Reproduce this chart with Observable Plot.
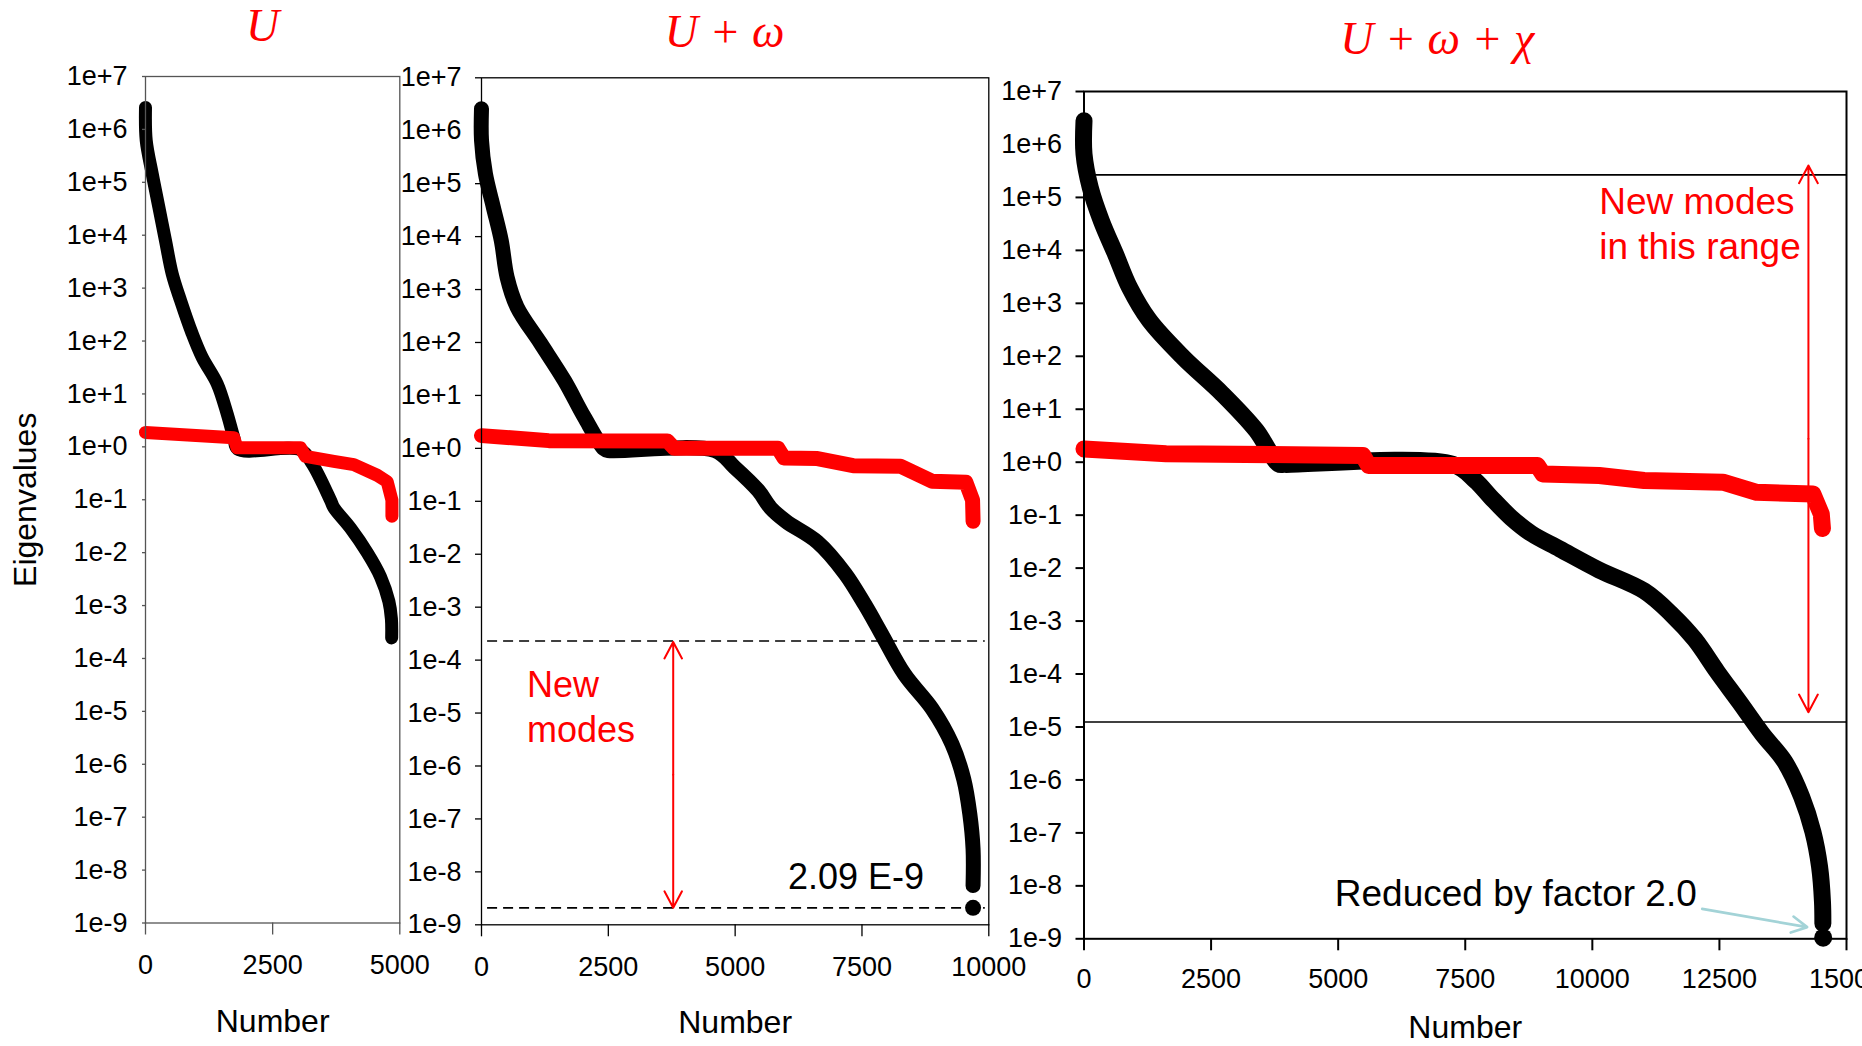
<!DOCTYPE html>
<html><head><meta charset="utf-8">
<script src="https://cdn.jsdelivr.net/npm/d3@7"></script>
<script src="https://cdn.jsdelivr.net/npm/@observablehq/plot@0.6"></script>
<style>
html,body{margin:0;padding:0;background:#fff;overflow:hidden;}
#wrap{position:relative;width:1862px;height:1046px;overflow:hidden;background:#fff;}
</style></head><body><div id="wrap"></div>
<script>
// ---------- data ----------
const yTickValues = [1e7,1e6,1e5,1e4,1e3,1e2,1e1,1e0,1e-1,1e-2,1e-3,1e-4,1e-5,1e-6,1e-7,1e-8,1e-9];
const yTickLabels = ["1e+7","1e+6","1e+5","1e+4","1e+3","1e+2","1e+1","1e+0","1e-1","1e-2","1e-3","1e-4","1e-5","1e-6","1e-7","1e-8","1e-9"];
const xTicksU = [0, 2500, 5000];
const xTicksUW = [0, 2500, 5000, 7500, 10000];
const xTicksUWX = [0, 2500, 5000, 7500, 10000, 12500, 15000];
const panelTitles = ["U", "U + ω", "U + ω + χ"];
const xLabel = "Number";
const yLabel = "Eigenvalues";

// Panel U
const uBlackX = [0, 14, 132, 262, 393, 525, 688, 918, 1115, 1410, 1606, 1736, 1815, 3050, 3278, 3638, 3703, 4031, 4359, 4621, 4785, 4835, 4840];
const uBlackY = [2.6e6, 6.2e5, 1.45e5, 3.4e4, 7.9e3, 1.86e3, 590, 138, 49, 15.5, 4.2, 1.5, 0.9, 0.88, 0.48, 0.098, 0.071, 0.029, 0.010, 0.0035, 0.0012, 5.6e-4, 2.45e-4];
const uRedX = [0, 1736, 1800, 3047, 3146, 3703, 4096, 4556, 4752, 4845, 4845];
const uRedY = [1.87, 1.48, 0.96, 0.96, 0.66, 0.53, 0.46, 0.29, 0.22, 0.098, 0.049];

// Panel U + omega
const uwBlackX = [0, 0, 77, 233, 389, 505, 700, 1169, 1636, 2026, 2415, 2500, 4597, 4987, 5454, 5700, 6000, 6623, 7169, 7560, 7871, 8338, 8884, 9274, 9507, 9625, 9690, 9690];
const uwBlackY = [2.6e6, 6.6e5, 1.55e5, 3.6e4, 8.5e3, 1.7e3, 470, 95, 19, 3.9, 0.98, 0.91, 0.91, 0.44, 0.16, 0.075, 0.042, 0.017, 0.0043, 0.0011, 3.3e-4, 5.4e-5, 1.2e-5, 2.6e-6, 5.6e-7, 1.25e-7, 2.7e-8, 5.5e-9];
const uwRedX = [0, 1325, 3663, 3800, 5845, 5961, 6623, 7325, 8261, 8884, 9547, 9680, 9690];
const uwRedY = [1.74, 1.4, 1.38, 1.0, 1.0, 0.66, 0.64, 0.47, 0.46, 0.24, 0.23, 0.105, 0.042];
const uwLastX = [9690];
const uwLastY = [2.09e-9];
const uwDashedY = [2.3e-4, 2.09e-9];
const uwDashedX = [120, 9930];
const uwArrowX = 3779, uwArrowTop = 2.2e-4, uwArrowBottom = 2.1e-9;

// Panel U + omega + chi
const uwxBlackX = [0, 0, 122, 342, 620, 895, 1283, 1948, 2721, 3386, 3828, 3950, 7257, 7700, 8000, 8400, 8800, 9360, 10135, 11020, 11573, 12016, 12458, 12901, 13343, 13786, 14118, 14339, 14470, 14527, 14535];
const uwxBlackY = [2.8e6, 6.6e5, 1.55e5, 3.6e4, 8.5e3, 2.0e3, 480, 96, 19.5, 4.0, 0.93, 0.91, 0.91, 0.45, 0.22, 0.09, 0.045, 0.023, 0.0092, 0.0037, 0.0013, 4.5e-4, 1.1e-4, 2.9e-5, 7.4e-6, 2.2e-6, 4.8e-7, 1.05e-7, 2.3e-8, 5.1e-9, 1.95e-9];
const uwxRedX = [0, 1615, 5486, 5598, 8917, 9027, 10135, 11020, 12569, 13233, 14339, 14504, 14527];
const uwxRedY = [1.78, 1.45, 1.34, 0.87, 0.87, 0.60, 0.56, 0.45, 0.42, 0.27, 0.25, 0.105, 0.056];
const uwxLastX = [14541];
const uwxLastY = [1.05e-9];
const uwxLinesY = [2.67e5, 1.24e-5];
const uwxArrowX = 14251, uwxArrowTop = 4.0e5, uwxArrowBottom = 1.9e-5;
const uwxPointer = {x1: 12161, y1: 3.67e-9, x2: 14227, y2: 1.66e-9};

// annotations (data coordinates)
const uwNote = {text: "New\nmodes", x: 895, y: 2.78e-6};
const uwValue = {text: "2.09 E-9", x: 6040, y: 4.7e-9};
const uwxNote = {text: "New modes\nin this range", x: 10135, y: 7.0e3};
const uwxReduced = {text: "Reduced by factor 2.0", x: 4934, y: 4.1e-9};

// ---------- drawing ----------
const W = 1862, H = 1046;
const SANS = "'Liberation Sans', Arial, Helvetica, sans-serif";
const SERIF = "'Liberation Serif', 'Times New Roman', serif";
const RED = "#ff0000";
const yFmt = d => {
  const i = yTickValues.findIndex(v => Math.abs(Math.log10(v) - Math.log10(d)) < 1e-6);
  return i >= 0 ? yTickLabels[i] : "";
};
const seq = n => Array.from({length: n}, (_, i) => i);

function panel(o) {
  const marks = [
    ...(o.under || []),
    Plot.line(seq(o.bx.length), {x: o.bx, y: o.by, stroke: "#000", strokeWidth: o.sw, strokeLinecap: "round", strokeLinejoin: "round", curve: "catmull-rom"}),
    ...(o.lastX ? [Plot.dot(seq(o.lastX.length), {x: o.lastX, y: o.lastY, r: o.sw / 2 + 0.5, fill: "#000", stroke: "none"})] : []),
    Plot.line(seq(o.rx.length), {x: o.rx, y: o.ry, stroke: RED, strokeWidth: o.sw, strokeLinecap: "round", strokeLinejoin: "round", curve: "linear"}),
    Plot.frame({stroke: o.frameColor, strokeWidth: o.frameWidth}),
    Plot.axisY({ticks: yTickValues, tickFormat: yFmt, tickSize: o.yTickSize, tickPadding: o.yTickPadding, fontSize: 27, label: null, stroke: o.frameColor, strokeWidth: o.frameWidth}),
    Plot.axisX({ticks: o.xTicks, tickFormat: d => String(d), tickSize: 12, tickPadding: o.xTickPadding, fontSize: 27, label: null, stroke: o.frameColor, strokeWidth: o.frameWidth}),
    Plot.text([o.title], {frameAnchor: "top", dx: o.titleDx, dy: o.titleDy, lineAnchor: "bottom", textAnchor: "middle", fontFamily: SERIF, fontStyle: "italic", fontSize: 46, fill: RED}),
    Plot.text([xLabel], {frameAnchor: "bottom", dy: o.xLabelDy, lineAnchor: "bottom", textAnchor: "middle", fontSize: 32, fill: "#000"}),
    ...(o.over || [])
  ];
  const svg = Plot.plot({
    width: W, height: H,
    marginLeft: o.m[0], marginRight: o.m[1], marginTop: o.m[2], marginBottom: o.m[3],
    x: {domain: o.xDomain, label: null},
    y: {type: "log", domain: [1e-9, 1e7], label: null},
    style: {position: "absolute", left: "0px", top: "0px", background: "transparent", fontFamily: SANS, fontSize: "27px", color: "#000", overflow: "hidden", maxWidth: "none"},
    marks
  });
  document.getElementById("wrap").appendChild(svg);
}

// Panel 1: U
panel({
  xDomain: [0, 5000], xTicks: xTicksU, m: [145, W - 399.3, 76, H - 922.5],
  bx: uBlackX, by: uBlackY, rx: uRedX, ry: uRedY, sw: 13,
  frameColor: "#555", frameWidth: 1.3, yTickSize: 3, yTickPadding: 15, xTickPadding: 20,
  title: panelTitles[0], titleDx: -10, titleDy: -36, xLabelDy: 108.5,
  over: [
    Plot.text([yLabel], {frameAnchor: "left", dx: -120, rotate: -90, lineAnchor: "middle", textAnchor: "middle", fontSize: 32, fill: "#000"})
  ]
});

// Panel 2: U + omega
const uwMid = Math.sqrt(uwArrowTop * uwArrowBottom);
panel({
  xDomain: [0, 10000], xTicks: xTicksUW, m: [481, W - 988.3, 77.3, H - 924.3],
  bx: uwBlackX, by: uwBlackY, rx: uwRedX, ry: uwRedY, sw: 15, lastX: uwLastX, lastY: uwLastY,
  frameColor: "#000", frameWidth: 1.3, yTickSize: 6, yTickPadding: 14, xTickPadding: 20,
  title: panelTitles[1], titleDx: -10.5, titleDy: -30.6, xLabelDy: 108.4,
  under: [
    Plot.ruleY(uwDashedY, {y: d => d, x1: uwDashedX[0], x2: uwDashedX[1], stroke: "#000", strokeWidth: 1.6, strokeDasharray: "10,6"})
  ],
  over: [
    Plot.arrow([0], {x1: uwArrowX, y1: uwMid, x2: uwArrowX, y2: uwArrowTop, stroke: RED, strokeWidth: 2, headLength: 14, headAngle: 56}),
    Plot.arrow([0], {x1: uwArrowX, y1: uwMid, x2: uwArrowX, y2: uwArrowBottom, stroke: RED, strokeWidth: 2, headLength: 14, headAngle: 56}),
    Plot.text([uwNote], {x: "x", y: "y", text: "text", textAnchor: "start", lineAnchor: "bottom", lineHeight: 1.26, fontSize: 36, fill: RED}),
    Plot.text([uwValue], {x: "x", y: "y", text: "text", textAnchor: "start", lineAnchor: "bottom", fontSize: 36, fill: "#000"})
  ]
});

// Panel 3: U + omega + chi
const uwxMid = Math.sqrt(uwxArrowTop * uwxArrowBottom);
panel({
  xDomain: [0, 15000], xTicks: xTicksUWX, m: [1083.5, W - 1846, 91, H - 938.3],
  bx: uwxBlackX, by: uwxBlackY, rx: uwxRedX, ry: uwxRedY, sw: 17, lastX: uwxLastX, lastY: uwxLastY,
  frameColor: "#000", frameWidth: 2, yTickSize: 8, yTickPadding: 14, xTickPadding: 18,
  title: panelTitles[2], titleDx: -28, titleDy: -37.7, xLabelDy: 99,
  under: [
    Plot.ruleY(uwxLinesY, {y: d => d, stroke: "#000", strokeWidth: 1.6})
  ],
  over: [
    Plot.arrow([0], {x1: uwxArrowX, y1: uwxMid, x2: uwxArrowX, y2: uwxArrowTop, stroke: RED, strokeWidth: 2, headLength: 15, headAngle: 56}),
    Plot.arrow([0], {x1: uwxArrowX, y1: uwxMid, x2: uwxArrowX, y2: uwxArrowBottom, stroke: RED, strokeWidth: 2, headLength: 15, headAngle: 56}),
    Plot.arrow([uwxPointer], {x1: "x1", y1: "y1", x2: "x2", y2: "y2", stroke: "#a3d3d7", strokeWidth: 2.6, headLength: 10, headAngle: 56}),
    Plot.text([uwxNote], {x: "x", y: "y", text: "text", textAnchor: "start", lineAnchor: "bottom", lineHeight: 1.21, fontSize: 37, fill: RED}),
    Plot.text([uwxReduced], {x: "x", y: "y", text: "text", textAnchor: "start", lineAnchor: "bottom", fontSize: 37, fill: "#000"})
  ]
});
</script></body></html>
